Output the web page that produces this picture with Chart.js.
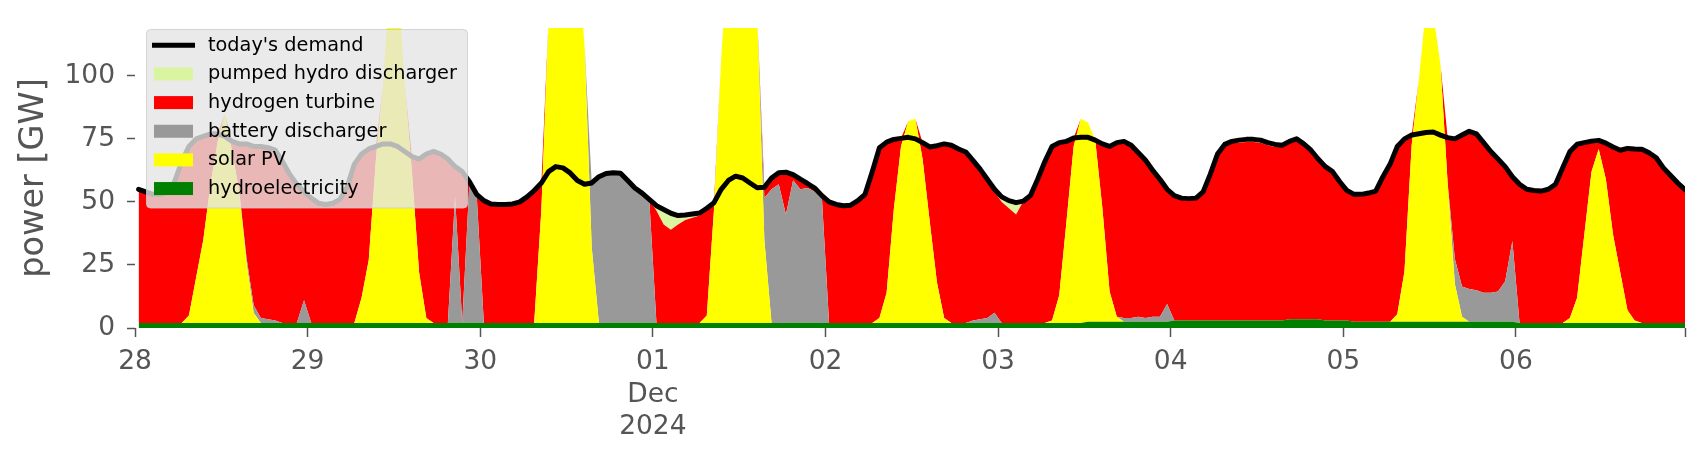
<!DOCTYPE html>
<html>
<head>
<meta charset="utf-8">
<title>power mix</title>
<script src="https://cdn.jsdelivr.net/npm/chart.js@4.4.1/dist/chart.umd.min.js"></script>
<style>
html,body{margin:0;padding:0;background:#fff;}
#wrap{width:1706px;height:460px;}
</style>
</head>
<body>
<div id="wrap"><canvas id="powerChart" width="1706" height="460"></canvas></div>
<script>
// hourly values, 28 Nov 00:00 .. 06 Dec 23:00 (one line per day)
var demand=[
 55,54,53,53,54,58,66,72,75,76,77,77,76,74,73,73,72,72,71.5,70.5,66,61,57,54,
 51.5,49.5,49,49.5,51,56,65,69,71,72,73,73,72,70,68,67,69,70,69,67,64,62,58,53,
 50.5,49.2,49,49,49.2,50,52,54.5,57.5,62,64,63.5,61.5,58.5,57,57.5,60,61.3,61.6,61.4,58.5,55.5,53.5,51,
 48.5,47,45.5,44.6,44.8,45.2,45.6,47.5,49.7,55,58.5,60.2,59.5,57.5,55.6,55.8,59.5,61.6,61.8,60.8,59,57.3,55.5,52.5,
 50,49,48.5,48.7,50.5,53,62,71.5,73.7,74.8,75.2,75.6,75,73.5,71.8,72.3,73,72.5,71,69.8,66.5,63,59,55,
 52,50.5,49.7,50.3,52.5,59,66,72,73.5,74,75.3,75.6,75.6,74.5,73,72,73.5,74,72.5,69.5,66.5,62.5,59,55,
 52.5,51.5,51.3,51.5,54,61,69,72.8,74,74.5,74.8,74.8,74.5,73.5,72.8,72.5,74,75,73,70.5,67,64,62,58,
 54.5,53,53,53.5,54.3,60,65,72,75,76.5,77,77.5,77.7,76.5,75.5,75,76.5,78,77,73.5,70,67,64,60,
 57,55,54.5,54.3,55,57,63.5,70,72.9,73.5,74.1,74.4,73.3,71.8,70.5,71.2,71,70.9,69.5,67.5,63.5,60.5,57.5,54.8
];
var hydro=[
 2,2,2,2,2,2,2,2,2,2,2,2,2,2,2,2,2,2,2,2,2,2,2,2,
 2,2,2,2,2,2,2,2,2,2,2,2,2,2,2,2,2,2,2,2,2,2,2,2,
 2,2,2,2,2,2,2,2,2,2,2,2,2,2,2,2,2,2,2,2,2,2,2,2,
 2,2,2,2,2,2,2,2,2,2,2,2,2,2,2,2,2,2,2,2,2,2,2,2,
 2,2,2,2,2,2,2,2,2,2,2,2,2,2,2,2,2,2,2,2,2,2,2,2,
 2,2,2,2,2,2,2,2,2,2,2,2,2.5,2.5,2.5,2.5,2.5,2.5,2.5,2.5,2.5,2.5,2.5,2.5,
 3,3,3,3,3,3,3,3,3,3,3,3,3,3,3,3,3.5,3.5,3.5,3.5,3.5,3,3,3,
 3,2.5,2.5,2.5,2.5,2.5,2.5,2.5,2.5,2.5,2.5,2.5,2.5,2.5,2.5,2.5,2.5,2.5,2.5,2.5,2.5,2.5,2.5,2.5,
 2,2,2,2,2,2,2,2,2,2,2,2,2,2,2,2,2,2,2,2,2,2,2,2
];
var solar=[
 0,0,0,0,0,0,0,3,18,33,55,72,83,68,52,24,4,0,0,0,0,0,0,0,
 0,0,0,0,0,0,0,10,25,65,95,140,140,95,60,20,2,0,0,0,0,0,0,0,
 0,0,0,0,0,0,0,0,45,120,150,160,160,150,110,30,0,0,0,0,0,0,0,0,
 0,0,0,0,0,0,0,3,45,105,150,155,155,145,122,33,0,0,0,0,0,0,0,0,
 0,0,0,0,0,0,0,2,12,45,70,80,81,65,40,16,2,0,0,0,0,0,0,0,
 0,0,0,0,0,0,0,1,11,40,70,81,79,72,45,12,2,0,0,0,0,0,0,0,
 0,0,0,0,0,0,0,0,0,0,0,0,0,0,0,0,0,0,0,0,0,0,0,0,
 0,0,0,0,0,0,0,3,20,70,96,125,122,102,55,15,2,0,0,0,0,0,0,0,
 0,0,0,0,0,0,0,2,10,35,60,69,57,35,20,5,1,0,0,0,0,0,0,0
];
var battery=[
 0,0,0,0,0,0,0,0,0,0,0,0,0,0,0,2,3,2,1.5,1,0,0,0,9,
 0,0,0,0,0,0,0,0,0,0,0,0,0,0,0,0,0,0,0,0,50,0,56,51,
 0,0,0,0,0,0,0,0,0,0,0,0,0,0,0,25.5,58,59.3,59.6,59.4,56.5,53.5,51.5,49,
 0,0,0,0,0,0,0,0,0,0,0,0,0,0,0,16.5,53,55,43,56.6,53,53.5,52,49.5,
 0,0,0,0,0,0,0,0,0,0,0,0,0,0,0,0,0,0,0,0,1,1.5,2,4,
 0,0,0,0,0,0,0,0,0,0,0,0,0,0,0,0,0,1.5,1.5,2,1.5,2,2,7,
 0,0,0,0,0,0,0,0,0,0,0,0,0,0,0,0,0,0,0,0,0,0,0,0,
 0,0,0,0,0,0,0,0,0,0,0,0,0,0,0,10,12,13,12.5,11.5,11.5,12,16,32,
 0,0,0,0,0,0,0,0,0,0,0,0,0,0,0,0,0,0,0,0,0,0,0,0
];
var hydrogen=[
 53,52,51,51,52,56,64,67,55,41,20,3,0,4,19,45,63,68,68,67.5,64,59,55,43,
 49.5,47.5,47,47.5,49,54,63,57,44,5,0,0,0,0,6,45,65,68,67,65,12,60,0,0,
 48.5,47.2,47,47,47.2,48,50,52.5,10.5,0,0,0,0,0,0,0,0,0,0,0,0,0,0,0,
 44.5,39,37,39,40.8,41.7,42.6,42.5,2.7,0,0,0,0,0,0,4.3,4.5,4.6,16.8,2.2,4,1.8,1.5,1,
 48,47,46.5,46.7,48.5,51,60,67.5,59.7,27.8,3.2,0,0,6.5,29.8,54.3,69,70.5,69,67.8,63.5,59.5,55,48,
 48,45.5,43,48.3,50.5,57,64,69,60.5,32,3.3,0,0,0,25.5,57.5,69,70,68.5,65,62.5,58,54.5,45.5,
 49.5,48.5,48.3,48.5,51,58,66,69.8,71,70.5,70.8,70.8,70.5,69.5,68.8,69,70.5,71.5,69.5,67,63.5,61,59,55,
 51.5,50.5,50.5,51,51.8,57.5,62.5,66.5,52.5,4,0,0,0,0,18,47.5,60,62.5,62,59.5,56,52.5,45.5,25.5,
 55,53,52.5,52.3,53,55,61.5,66,60.9,36.5,12.1,3.4,14.3,34.8,48.5,64.2,68,68.9,67.5,65.5,61.5,58.5,55.5,52.8
];
var pumped=[
 0,0,0,0,0,0,0,0,0,0,0,0,0,0,0,0,0,0,0,0,0,0,0,0,
 0,0,0,0,0,0,0,0,0,0,0,0,0,0,0,0,0,0,0,0,0,0,0,0,
 0,0,0,0,0,0,0,0,0,0,0,0,0,0,0,0,0,0,0,0,0,0,0,0,
 2,6,6.5,3.6,2,1.5,1,0,0,0,0,0,0,0,0,0,0,0,0,0,0,0,0,0,
 0,0,0,0,0,0,0,0,0,0,0,0,0,0,0,0,0,0,0,0,0,0,0,1,
 2,3,4.7,0,0,0,0,0,0,0,0,0,0,0,0,0,0,0,0,0,0,0,0,0,
 0,0,0,0,0,0,0,0,0,1,1,1,1,1,1,0.5,0,0,0,0,0,0,0,0,
 0,0,0,0,0,0,0,0,0,0,0,0,0,0,0,0,0,0,0,0,0,0,0,0,
 0,0,0,0,0,0,0,0,0,0,0,0,0,0,0,0,0,0,0,0,0,0,0,0
];

// axis ticks (hours since 28 Nov 00:00) and their labels
var dayTicks=[0,24,48,72,96,120,144,168,192,215.5];
var dayLabels=["28","29","30",["01","Dec","2024"],"02","03","04","05","06",""];
var powerTicks=[0,25,50,75,100];

Chart.defaults.font.family="'DejaVu Sans', sans-serif";
Chart.defaults.color="#555";

function toPoints(list){
    var pts=[];
    for(var i=0;i<list.length;i++){
        pts.push({x:i+0.5,y:list[i]});
    }
    return pts;
}

// stacked from the bottom up
var stackList=[
    {label:"hydroelectricity",data:hydro,color:"#008000"},
    {label:"solar PV",data:solar,color:"#ffff00"},
    {label:"battery discharger",data:battery,color:"#999999"},
    {label:"hydrogen turbine",data:hydrogen,color:"#ff0000"},
    {label:"pumped hydro discharger",data:pumped,color:"#d9f5a1"}
];

var datasets=[{
    label:"today's demand",
    data:toPoints(demand),
    borderColor:"#000",
    borderWidth:5,
    borderJoinStyle:"round",
    borderCapStyle:"round",
    pointRadius:0,
    fill:false,
    tension:0,
    stack:"demand",
    order:0
}];
for(var i=0;i<stackList.length;i++){
    datasets.push({
        label:stackList[i].label,
        data:toPoints(stackList[i].data),
        backgroundColor:stackList[i].color,
        borderColor:"rgba(0,0,0,0)",
        borderWidth:0,
        pointRadius:0,
        fill:i==0?"origin":"-1",
        tension:0,
        stack:"supply",
        order:1
    });
}

//legend box drawn over the plot, like the original
var boxLegend={
    id:"boxLegend",
    afterDraw:function(chart){
        var ctx=chart.ctx;
        var items=[datasets[0]];
        for(var k=datasets.length-1;k>=1;k--){
            items.push(datasets[k]);
        }
        ctx.save();
        ctx.beginPath();
        ctx.roundRect(146.5,29.5,321,178.5,4);
        ctx.fillStyle="rgba(229,229,229,0.8)";
        ctx.fill();
        ctx.strokeStyle="rgba(204,204,204,0.8)";
        ctx.lineWidth=1;
        ctx.stroke();
        ctx.font="19.3px 'DejaVu Sans'";
        ctx.textBaseline="middle";
        ctx.textAlign="left";
        for(var j=0;j<items.length;j++){
            var y=45.3+j*28.65;
            if(j==0){
                ctx.strokeStyle="#000";
                ctx.lineWidth=5;
                ctx.beginPath();
                ctx.moveTo(152,y);
                ctx.lineTo(195,y);
                ctx.stroke();
            }else{
                ctx.fillStyle=items[j].backgroundColor;
                ctx.fillRect(154,y-6.5,39,13);
            }
            ctx.fillStyle="#000";
            ctx.fillText(items[j].label,208,y+0.5);
        }
        ctx.restore();
    }
};

var powerChart=new Chart(document.getElementById("powerChart"),{
    type:"line",
    data:{datasets:datasets},
    plugins:[boxLegend],
    options:{
        responsive:false,
        animation:false,
        devicePixelRatio:1,
        layout:{padding:{left:0,right:21,top:22,bottom:0}},
        plugins:{legend:{display:false},tooltip:{enabled:false}},
        scales:{
            x:{
                type:"linear",
                min:0,
                max:215.5,
                border:{display:false},
                grid:{drawOnChartArea:false,drawTicks:true,tickLength:9,tickWidth:1.5,tickColor:"#555"},
                ticks:{
                    autoSkip:false,
                    maxRotation:0,
                    padding:9,
                    color:"#555",
                    font:{size:26.5,lineHeight:1.23},
                    callback:function(v,idx){return dayLabels[idx];}
                },
                afterBuildTicks:function(s){
                    s.ticks=dayTicks.map(function(v){return {value:v};});
                },
                afterFit:function(s){s.height=132;}
            },
            y:{
                stacked:true,
                min:0,
                max:119,
                border:{display:false},
                grid:{drawOnChartArea:false,drawTicks:true,tickLength:8,tickWidth:1.5,tickColor:"#555"},
                ticks:{padding:12,color:"#555",font:{size:26.5}},
                title:{display:true,text:"power [GW]",color:"#555",font:{size:33.5},padding:{top:14,bottom:0}},
                afterBuildTicks:function(s){
                    s.ticks=powerTicks.map(function(v){return {value:v};});
                },
                afterFit:function(s){s.width=135;}
            }
        }
    }
});
</script>
</body>
</html>
